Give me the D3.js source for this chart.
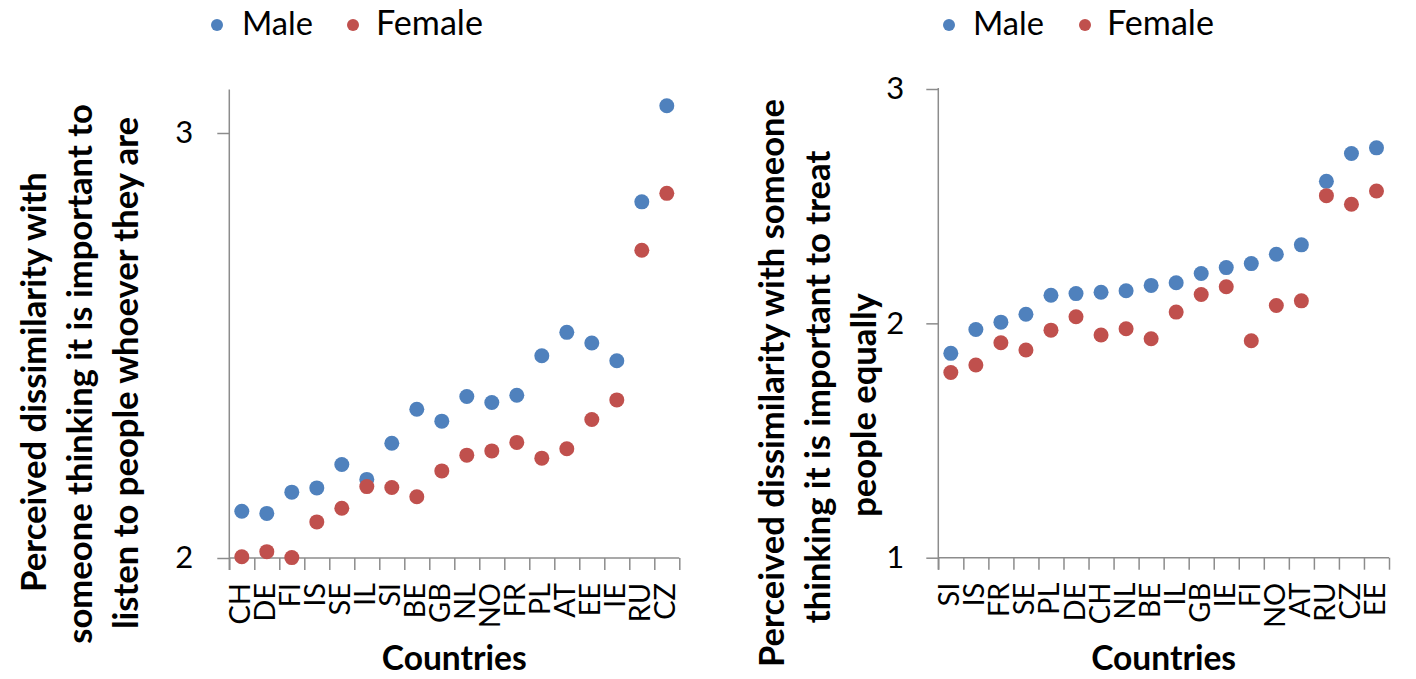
<!DOCTYPE html>
<html>
<head>
<meta charset="utf-8">
<script src="https://cdn.jsdelivr.net/npm/d3@7"></script>
<style>
  html, body { margin: 0; padding: 0; background: #fff; }
  svg { display: block; }
  text { font-family: Lato, "Open Sans", sans-serif; fill: #000; }
</style>
</head>
<body>
<svg id="chart" width="1416" height="679"></svg>
<script>
// ---------- DATA ----------
const seriesNames = ["Male", "Female"];

const leftCountries = ["CH","DE","FI","IS","SE","IL","SI","BE","GB","NL","NO","FR","PL","AT","EE","IE","RU","CZ"];
const leftMale   = [2.110,2.105,2.155,2.165,2.220,2.185,2.270,2.350,2.322,2.380,2.366,2.383,2.476,2.531,2.506,2.464,2.838,3.064];
const leftFemale = [2.003,2.015,2.001,2.085,2.117,2.168,2.166,2.144,2.205,2.242,2.252,2.272,2.235,2.257,2.326,2.372,2.724,2.858];
const leftTicks  = [2, 3];
const leftTitle  = ["Perceived dissimilarity with", "someone thinking it is important to", "listen to people whoever they are"];

const rightCountries = ["SI","IS","FR","SE","PL","DE","CH","NL","BE","IL","GB","IE","FI","NO","AT","RU","CZ","EE"];
const rightMale   = [1.872,1.974,2.005,2.039,2.120,2.127,2.133,2.139,2.162,2.173,2.213,2.238,2.255,2.295,2.335,2.606,2.725,2.749];
const rightFemale = [1.790,1.822,1.917,1.886,1.971,2.028,1.950,1.977,1.934,2.048,2.123,2.156,1.926,2.076,2.096,2.545,2.508,2.565];
const rightTicks  = [1, 2, 3];
const rightTitle  = ["Perceived dissimilarity with someone", "thinking it is important to treat", "people equally"];

const xTitle = "Countries";

// ---------- STYLE ----------
const colors = { Male: "#4F81BD", Female: "#C0504D" };
const axisColor = "#8c8c8c";

const svg = d3.select("#chart");

function fitSize(textSel, base, target) {
  textSel.attr("font-size", base);
  const w = textSel.node().getComputedTextLength();
  const s = base * target / w;
  textSel.attr("font-size", s);
  return s;
}

function drawPanel(cfg) {
  const g = svg.append("g");
  const x = d3.scaleBand().domain(cfg.countries).range([cfg.x0, cfg.x1]);
  const xLin = d3.scaleLinear().domain([0, cfg.countries.length]).range([cfg.x0, cfg.x1]);
  const y = d3.scaleLinear().domain(cfg.yDomain).range([cfg.yBottom, cfg.yTop]);

  // y axis
  const yAx = g.append("g").attr("transform", `translate(${cfg.x0},0)`)
    .call(d3.axisLeft(y).tickValues(cfg.ticks).tickFormat(d3.format("d")).tickSize(12).tickPadding(cfg.tickPad));
  yAx.select(".domain").remove();
  yAx.selectAll(".tick line").attr("stroke", axisColor).attr("stroke-width", 1.5);
  yAx.selectAll(".tick text").attr("font-size", 31).attr("fill", "#000")
     .attr("font-family", "Lato, sans-serif");
  // vertical axis line extended down to tick length
  g.append("line").attr("x1", cfg.x0).attr("x2", cfg.x0)
    .attr("y1", cfg.yTop - 1).attr("y2", cfg.yBottom + 12)
    .attr("stroke", axisColor).attr("stroke-width", 1.5);

  // x axis ticks at category boundaries
  const xAx = g.append("g").attr("transform", `translate(0,${cfg.yBottom})`)
    .call(d3.axisBottom(xLin).tickValues(d3.range(cfg.countries.length + 1)).tickFormat("").tickSize(12));
  xAx.select(".domain").remove();
  xAx.selectAll(".tick line").attr("stroke", axisColor).attr("stroke-width", 1.5);
  g.append("line").attr("x1", cfg.x0).attr("x2", cfg.x1)
    .attr("y1", cfg.yBottom).attr("y2", cfg.yBottom)
    .attr("stroke", axisColor).attr("stroke-width", 1.5);

  // x labels via band axis
  const xLab = g.append("g").attr("transform", `translate(0,${cfg.yBottom})`)
    .call(d3.axisBottom(x).tickSize(0).tickPadding(0));
  xLab.select(".domain").remove();
  xLab.selectAll(".tick text")
    .attr("font-size", 29).attr("font-family", "Lato, sans-serif").attr("fill", "#000")
    .attr("text-anchor", "end")
    .attr("dominant-baseline", "central")
    .attr("dy", null)
    .attr("y", 0)
    .attr("transform", `translate(-3,25) rotate(-90)`);

  // points
  const series = [
    { name: "Male", values: cfg.male },
    { name: "Female", values: cfg.female }
  ];
  series.forEach(s => {
    g.append("g").selectAll("circle").data(cfg.countries)
      .join("circle")
      .attr("cx", d => x(d) + x.bandwidth() / 2)
      .attr("cy", (d, i) => y(s.values[i]))
      .attr("r", 7.5)
      .attr("fill", colors[s.name]);
  });

  // x title
  const xt = g.append("text").text(xTitle)
    .attr("x", (cfg.x0 + cfg.x1) / 2).attr("y", 670)
    .attr("text-anchor", "middle").attr("font-weight", "bold");
  fitSize(xt, 30, 145);

  // y title lines
  const lines = cfg.title.map((t, i) => g.append("text").text(t)
    .attr("text-anchor", "middle")
    .attr("dominant-baseline", "central")
    .attr("font-weight", "bold")
    .attr("transform", `translate(${cfg.titleX[i]},${cfg.titleY[i]}) rotate(-90)`));
  const fs = fitSize(lines[cfg.fitLine], 30, cfg.fitWidth);
  lines.forEach(l => l.attr("font-size", fs));

  // legend
  const lg = g.append("g");
  cfg.legend.forEach((L, i) => {
    lg.append("circle").attr("cx", L.mx).attr("cy", 25).attr("r", 6).attr("fill", colors[seriesNames[i]]);
    const t = lg.append("text").text(seriesNames[i]).attr("x", L.tx).attr("y", 35);
    fitSize(t, 30, L.w);
  });
}

drawPanel({
  countries: leftCountries, male: leftMale, female: leftFemale,
  x0: 229.3, x1: 679.3, yTop: 90.5, yBottom: 558, yDomain: [2, 3.1], ticks: leftTicks, tickPad: 24,
  title: leftTitle, titleX: [32, 78, 124], titleY: [382, 374, 373], fitLine: 1, fitWidth: 540,
  legend: [{ mx: 217, tx: 242, w: 71 }, { mx: 353, tx: 376, w: 107 }]
});

drawPanel({
  countries: rightCountries, male: rightMale, female: rightFemale,
  x0: 938.3, x1: 1389, yTop: 89, yBottom: 557.7, yDomain: [1, 3], ticks: rightTicks, tickPad: 22,
  title: rightTitle, titleX: [770, 816, 862], titleY: [383, 387, 405], fitLine: 0, fitWidth: 568,
  legend: [{ mx: 949, tx: 973, w: 71 }, { mx: 1085, tx: 1107, w: 107 }]
});
</script>
</body>
</html>
